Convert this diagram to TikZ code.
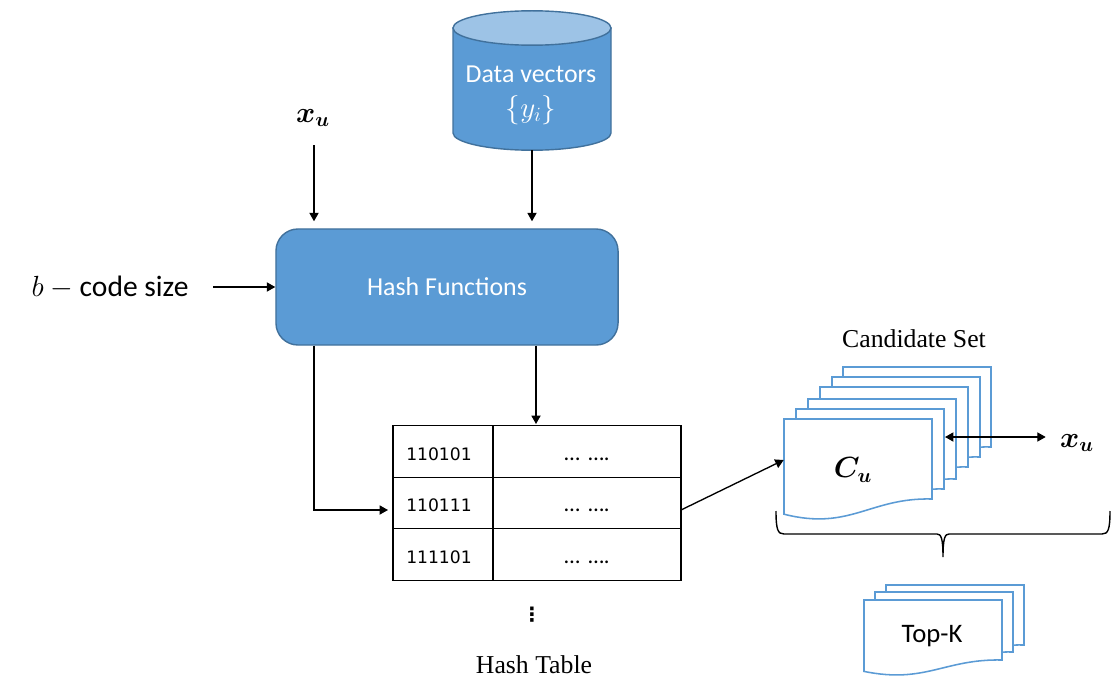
\documentclass[tikz,border=0pt]{standalone}
\usepackage{amsmath}
\usepackage{bm}
\usepackage{fontspec}
\setmainfont{Liberation Serif}
\newfontfamily\calibrilike{Carlito}
\newfontfamily\tablefont{DejaVu Sans}
\usetikzlibrary{positioning, arrows.meta}

\definecolor{boxblue}{HTML}{5B9BD5}
\definecolor{boxedge}{HTML}{41719C}
\definecolor{boxtop}{HTML}{9DC3E6}

\tikzset{
    conn/.style={line width=0.95pt, -{Stealth[length=6pt, width=6.5pt, inset=0pt]}},
    twoway/.style={line width=0.95pt, {Stealth[length=6pt, width=6.5pt, inset=0pt]}-{Stealth[length=6pt, width=6.5pt, inset=0pt]}},
    bluebox/.style={draw=boxedge, line width=1pt, fill=boxblue, text=white, font=\calibrilike\fontsize{18.4}{22}\selectfont},
    sheetline/.style={draw=boxblue, line width=1.1pt, fill=white},
    bodytext/.style={font=\calibrilike\fontsize{21}{24}\selectfont},
    serifcap/.style={font=\fontsize{18.3}{22}\selectfont},
    cell/.style={draw, line width=0.9pt, inner sep=0pt, outer sep=0pt, minimum height=1.2875cm, text height=0.45cm},
    mathlabel/.style={inner sep=0pt, font=\fontsize{20}{24}\selectfont}
}

% one page of a stack: x, y, width, right side height
\newcommand{\docsheet}[4]{
    \draw[sheetline] (#1,#2) -- ({#1+#3},#2) -- ({#1+#3},{#2+#4})
        .. controls ({#1+0.58*#3},{#2+0.98*#4}) and ({#1+0.446*#3},{#2+1.4*#4}) .. (#1,{#2+1.19*#4}) -- cycle;
}

\begin{document}
\begin{tikzpicture}[x=0.025cm, y=-0.025cm]
    \useasboundingbox (0,0) rectangle (1120,690);

    % cylinder body and lid
    \draw[draw=boxedge, line width=1pt, fill=boxblue] (453,28) -- (453,133)
        arc[start angle=180, end angle=360, x radius=1.975cm, y radius=0.43cm] -- (611,28) -- cycle;
    \draw[draw=boxedge, line width=1pt, fill=boxtop] (532,28) ellipse[x radius=1.975cm, y radius=0.43cm];
    \node[inner sep=0pt, text=white, font=\calibrilike\fontsize{18.4}{22}\selectfont, align=center, minimum height=2.75cm] (data) at (531,95) {Data vectors\\[3pt]{\fontsize{21}{22}\selectfont$\{y_i\}$}};

    \node[bluebox, rectangle, rounded corners=0.55cm, minimum width=8.55cm, minimum height=2.9cm] (hash) at (447,287) {Hash Functions};

    \node[mathlabel, minimum height=1.35cm] (xutop) at (314,118) {$\bm{x_u}$\kern0.05cm};
    \node[bodytext, inner sep=0pt, minimum width=5.15cm, minimum height=1cm] (codesize) at (110,287) {$b$ $-$ code size};

    \foreach \rowname/\rowy/\rowkey in {1/451.5/110101, 2/503/110111, 3/554.5/111101} {
        \node[cell, minimum width=2.5cm, font=\tablefont\fontsize{12.2}{15}\selectfont] (key\rowname) at (443,\rowy) {\rowkey\kern0.2cm};
        \node[cell, minimum width=4.7cm, font=\calibrilike\fontsize{16}{18}\selectfont] (val\rowname) at (587,\rowy) {…\hspace{0.08cm} ….};
    }
    \node[inner sep=0pt, font=\tablefont\bfseries\fontsize{14}{18}\selectfont] (tabledots) at (532,615) {⋮};
    \node[serifcap] (tablename) at (534,665) {Hash Table};

    \coordinate (tabtop) at (536,426);
    \coordinate (tabin) at (393,510);
    \coordinate (tabout) at (681,510);
    \coordinate (stackedge) at (945,437);

    \draw[conn, shorten >=0.175cm] (xutop.south) -- (xutop.south |- hash.north);
    \draw[conn, shorten >=0.175cm] (data.south -| 532,0) -- (hash.north -| 532,0);
    \draw[conn] (codesize.east) -- (hash.west);
    \draw[conn, shorten >=0.05cm] (hash.south -| tabtop) -- (tabtop);
    \draw[conn, shorten >=0.125cm] (hash.south -| xutop) |- (tabin);

    % candidate pages, back to front
    \foreach \sx/\sy in {843/367, 832/377, 820/387, 808/399, 796/409, 784/419} {
        \docsheet{\sx}{\sy}{148}{80}
    }
    \node[inner sep=0pt, minimum width=3.7cm, minimum height=2cm] (frontsheet) at (858,460) {};
    \node[mathlabel, font=\fontsize{21}{24}\selectfont] (culabel) at (853,470) {$\bm{C_u}$};
    \node[serifcap] (candname) at (914,339) {Candidate Set};
    \node[mathlabel, minimum width=1.55cm] (xuright) at (1077,443) {$\bm{x_u}$};

    \draw[conn] (tabout) -- (frontsheet.west);
    \draw[twoway] (stackedge) -- (stackedge -| xuright.west);

    \draw[line width=1pt] (776,511) .. controls (776,530) and (778,534) .. (784,534) -- (937,534)
        .. controls (941,534) and (943,538) .. (943,557) .. controls (943,538) and (945,534) .. (949,534)
        -- (1102,534) .. controls (1108,534) and (1110,530) .. (1110,511);

    % top-k pages
    \foreach \sx/\sy in {886/585, 875/592, 864/600} {
        \docsheet{\sx}{\sy}{138}{60}
    }
    \node[bodytext, font=\calibrilike\fontsize{19}{22}\selectfont] (topk) at (932,636) {Top-K};
\end{tikzpicture}
\end{document}
